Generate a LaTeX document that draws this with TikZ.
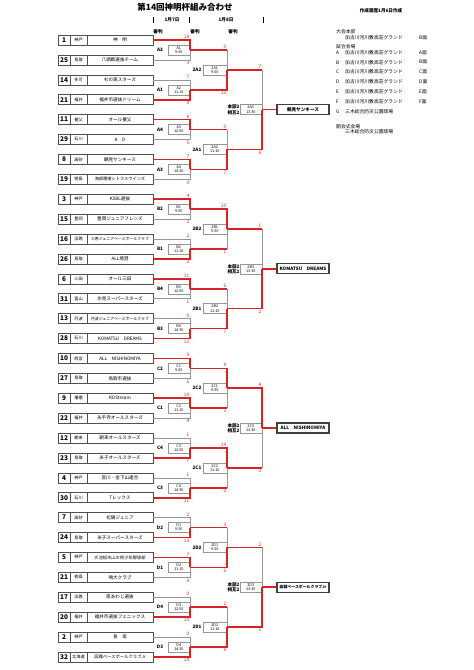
\documentclass[tikz,border=0pt]{standalone}
\usepackage{fontspec}
\setmainfont{Noto Sans CJK JP}
\definecolor{winred}{RGB}{215,35,40}
\definecolor{losegray}{RGB}{150,150,150}
\definecolor{boxgray}{RGB}{80,80,80}
\tikzset{
 cell/.style={draw=boxgray, line width=0.5pt, minimum height=10pt, inner sep=0pt, anchor=center},
 numcell/.style={cell, minimum width=12pt, font=\fontsize{6.5}{7}\selectfont\bfseries},
 areacell/.style={cell, minimum width=17pt, font=\fontsize{4.2}{5}\selectfont},
 namecell/.style={cell, minimum width=66pt, font=\fontsize{4.6}{5}\selectfont},
 matchbox/.style={draw=losegray, line width=0.5pt, fill=white, minimum height=10pt, inner sep=0pt, align=center, font=\fontsize{3.8}{4.1}\selectfont},
 reflabel/.style={font=\fontsize{4.6}{5}\selectfont\bfseries, inner sep=0pt, align=center},
 score/.style={font=\fontsize{4.7}{5}\selectfont, text=winred, inner sep=0.3pt},
 winline/.style={draw=winred, line width=1.6pt},
 loseline/.style={draw=losegray, line width=0.6pt},
 finalbox/.style={draw=black!75, line width=1.2pt, minimum width=52pt, minimum height=10pt, inner sep=0pt, font=\fontsize{4.6}{5}\selectfont\bfseries},
 legend/.style={anchor=west, inner sep=0pt, font=\fontsize{4.8}{5}\selectfont},
 hdr/.style={inner sep=0pt, font=\fontsize{4.6}{5}\selectfont\bfseries},
}
\newcommand\teamrow[4]{%
 \pgfmathsetmacro\ty{40+#1*19.9}%
 \node[numcell] (tn#1) at (64,\ty) {#2};
 \node[areacell] (ta#1) at (78.5,\ty) {#3};
 \node[namecell] (t#1) at (120,\ty) {#4};
}
\newcommand\roundone[7]{%
 \pgfmathtruncatemacro\ia{2*#1}%
 \pgfmathtruncatemacro\ib{2*#1+1}%
 \pgfmathsetmacro\ya{40+\ia*19.9}%
 \pgfmathsetmacro\yb{40+\ib*19.9}%
 \pgfmathsetmacro\ym{(\ya+\yb)/2}%
 \coordinate (a1-#1) at (190,\ya);
 \coordinate (b1-#1) at (190,\yb);
 \coordinate (m1-#1) at (190,\ym);
 \node[matchbox, minimum width=22pt, anchor=east] (g1-#1) at (m1-#1) {#2\\#3};
 \ifnum#7=0
   \draw[loseline] (t\ib.east) -- (b1-#1) -- (m1-#1);
   \draw[winline] (t\ia.east) -- (a1-#1) -- (m1-#1);
 \else
   \draw[loseline] (t\ia.east) -- (a1-#1) -- (m1-#1);
   \draw[winline] (t\ib.east) -- (b1-#1) -- (m1-#1);
 \fi
 \node[reflabel] (r1-#1) at (160,\ym) {#4};
 \node[score, anchor=south east, xshift=-0.3pt, yshift=0.9pt] (s1a-#1) at (a1-#1) {#5};
 \node[score, anchor=north east, xshift=-0.3pt, yshift=-0.9pt] (s1b-#1) at (b1-#1) {#6};
}
\newcommand\roundtwo[7]{%
 \pgfmathtruncatemacro\ka{2*#1}%
 \pgfmathtruncatemacro\kb{2*#1+1}%
 \pgfmathsetmacro\ya{40+(4*#1+0.5)*19.9}%
 \pgfmathsetmacro\yb{40+(4*#1+2.5)*19.9}%
 \pgfmathsetmacro\ym{(\ya+\yb)/2}%
 \coordinate (a2-#1) at (227,\ya);
 \coordinate (b2-#1) at (227,\yb);
 \coordinate (m2-#1) at (227,\ym);
 \node[matchbox, minimum width=24pt, anchor=east] (g2-#1) at (m2-#1) {#2\\#3};
 \ifnum#7=0
   \draw[loseline] (b2-#1) -- (m2-#1);
   \draw[winline] (m1-\kb) -- (b2-#1);
   \draw[winline] (m1-\ka) -- (a2-#1) -- (m2-#1);
 \else
   \draw[loseline] (a2-#1) -- (m2-#1);
   \draw[winline] (m1-\ka) -- (a2-#1);
   \draw[winline] (m1-\kb) -- (b2-#1) -- (m2-#1);
 \fi
 \node[reflabel] (r2-#1) at (197,\ym) {#4};
 \node[score, anchor=south east, xshift=-0.3pt, yshift=0.9pt] (s2a-#1) at (a2-#1) {#5};
 \node[score, anchor=north east, xshift=-0.3pt, yshift=-0.9pt] (s2b-#1) at (b2-#1) {#6};
}
\newcommand\roundthree[7]{%
 \pgfmathtruncatemacro\ka{2*#1}%
 \pgfmathtruncatemacro\kb{2*#1+1}%
 \pgfmathsetmacro\ya{40+(8*#1+1.5)*19.9}%
 \pgfmathsetmacro\yb{40+(8*#1+5.5)*19.9}%
 \pgfmathsetmacro\ym{(\ya+\yb)/2}%
 \coordinate (a3-#1) at (262,\ya);
 \coordinate (b3-#1) at (262,\yb);
 \coordinate (m3-#1) at (262,\ym);
 \node[matchbox, minimum width=22pt, anchor=east] (g3-#1) at (m3-#1) {#2\\#3};
 \node[finalbox] (f#1) at (303,\ym) {#7};
 \ifnum#6=0
   \draw[loseline] (b3-#1) -- (m3-#1);
   \draw[winline] (m2-\kb) -- (b3-#1);
   \draw[winline] (m2-\ka) -- (a3-#1) -- (m3-#1);
 \else
   \draw[loseline] (a3-#1) -- (m3-#1);
   \draw[winline] (m2-\ka) -- (a3-#1);
   \draw[winline] (m2-\kb) -- (b3-#1) -- (m3-#1);
 \fi
 \draw[winline] (m3-#1) -- (f#1.west);
 \node[reflabel, font=\fontsize{4.6}{5.2}\selectfont\bfseries] (r3-#1) at (233.5,\ym) {本部2\\相互2};
 \node[score, anchor=south east, xshift=-0.3pt, yshift=0.9pt] (s3a-#1) at (a3-#1) {#4};
 \node[score, anchor=north east, xshift=-0.3pt, yshift=-0.9pt] (s3b-#1) at (b3-#1) {#5};
}
\begin{document}
\begin{tikzpicture}[x=1pt,y=-1pt]
\useasboundingbox (0,0) rectangle (474,670);
\fill[white] (0,0) rectangle (474,670);
% header
\node[inner sep=0pt, font=\fontsize{8.5}{9}\selectfont\bfseries] (title) at (185,7.5) {第14回神明杯組み合わせ};
\node[hdr, font=\fontsize{4.6}{5}\selectfont\bfseries] (made) at (381,10.5) {作成履歴1月6日作成};
\coordinate (bar1t) at (153,17); \coordinate (bar1b) at (153,23);
\coordinate (bar2t) at (189,17); \coordinate (bar2b) at (189,23);
\coordinate (bar3t) at (263,17); \coordinate (bar3b) at (263,23);
\draw[line width=1pt] (bar1t) -- (bar1b);
\draw[line width=1pt] (bar2t) -- (bar2b);
\draw[line width=1pt] (bar3t) -- (bar3b);
\node[hdr] (d7) at (172,20) {1月7日};
\node[hdr] (d8) at (226,20) {1月8日};
\node[hdr] (ref1) at (158,32) {審判};
\node[hdr] (ref2) at (195,32) {審判};
\node[hdr] (ref3) at (233,32) {審判};
% legend
\node[legend] (lg1) at (336,32) {大会本部};
\node[legend] (lg2) at (345,37.5) {加古川河川敷高荘グランド};
\node[legend] (lg2b) at (419,37.5) {B面};
\node[legend] (lg3) at (336,47) {試合会場};
\node[legend] (lgA) at (336,52.5) {A}; \node[legend] (lgA2) at (345,52.5) {加古川河川敷高荘グランド}; \node[legend] (lgA3) at (419,52.5) {A面};
\node[legend] (lgB) at (336,62.3) {B}; \node[legend] (lgB2) at (345,62.3) {加古川河川敷高荘グランド}; \node[legend] (lgB3) at (419,62.3) {B面};
\node[legend] (lgC) at (336,72.1) {C}; \node[legend] (lgC2) at (345,72.1) {加古川河川敷高荘グランド}; \node[legend] (lgC3) at (419,72.1) {C面};
\node[legend] (lgD) at (336,81.9) {D}; \node[legend] (lgD2) at (345,81.9) {加古川河川敷高荘グランド}; \node[legend] (lgD3) at (419,81.9) {D面};
\node[legend] (lgE) at (336,91.7) {E}; \node[legend] (lgE2) at (345,91.7) {加古川河川敷高荘グランド}; \node[legend] (lgE3) at (419,91.7) {E面};
\node[legend] (lgF) at (336,101.5) {F}; \node[legend] (lgF2) at (345,101.5) {加古川河川敷高荘グランド}; \node[legend] (lgF3) at (419,101.5) {F面};
\node[legend] (lgG) at (336,111.3) {G}; \node[legend] (lgG2) at (345,111.3) {三木総合防災公園球場};
\node[legend] (lgH) at (336,126.5) {開会式会場};
\node[legend] (lgH2) at (345,132) {三木総合防災公園球場};
% teams
\teamrow{0}{1}{神戸}{神　明}
\teamrow{1}{25}{鳥取}{八頭郡選抜チーム}
\teamrow{2}{14}{多可}{杉の実スターズ}
\teamrow{3}{21}{福井}{福井市選抜ドリーム}
\teamrow{4}{11}{養父}{オール養父}
\teamrow{5}{29}{石川}{K　D}
\teamrow{6}{8}{高砂}{鶴見ヤンキース}
\teamrow{7}{19}{徳島}{{\fontsize{4.2}{5}\selectfont 海部勝浦シトラスウインズ}}
\teamrow{8}{3}{神戸}{KSBL選抜}
\teamrow{9}{15}{豊岡}{豊岡ジュニアフレンズ}
\teamrow{10}{16}{淡路}{{\fontsize{3.9}{5}\selectfont 三原ジュニアベースボールクラブ}}
\teamrow{11}{26}{鳥取}{ALL境港}
\teamrow{12}{6}{三田}{オール三田}
\teamrow{13}{31}{富山}{氷見スーパースターズ}
\teamrow{14}{13}{丹波}{{\fontsize{3.9}{5}\selectfont 丹波ジュニアベースボールクラブ}}
\teamrow{15}{28}{石川}{KOMATSU　DREAMS}
\teamrow{16}{10}{西宮}{ALL　NISHINOMIYA}
\teamrow{17}{27}{鳥取}{鳥取市選抜}
\teamrow{18}{9}{播磨}{KDStream}
\teamrow{19}{22}{福井}{永平寺オールスターズ}
\teamrow{20}{12}{朝来}{朝来オールスターズ}
\teamrow{21}{23}{鳥取}{米子オールスターズ}
\teamrow{22}{4}{神戸}{宮川・金下山連合}
\teamrow{23}{30}{石川}{Tレックス}
\teamrow{24}{7}{高砂}{松陽ジュニア}
\teamrow{25}{24}{鳥取}{米子スーパースターズ}
\teamrow{26}{5}{神戸}{{\fontsize{4.3}{5}\selectfont 大池桜木山の街少年野球部}}
\teamrow{27}{21}{徳島}{鳴大クラブ}
\teamrow{28}{17}{淡路}{南あわじ選抜}
\teamrow{29}{20}{福井}{福井市選抜フェニックス}
\teamrow{30}{2}{神戸}{長　坂}
\teamrow{31}{32}{北海道}{{\fontsize{4.3}{5}\selectfont 函館ベースボールクラブJr}}
% round 1
\roundone{0}{A1}{9:30}{A2}{18}{3}{0}
\roundone{1}{A2}{11:10}{A1}{7}{8}{1}
\roundone{2}{A3}{12:50}{A4}{8}{5}{0}
\roundone{3}{A4}{14:30}{A3}{7}{0}{0}
\roundone{4}{B1}{9:30}{B2}{4}{2}{0}
\roundone{5}{B2}{11:10}{B1}{2}{3}{1}
\roundone{6}{B3}{12:50}{B4}{11}{1}{0}
\roundone{7}{B4}{14:30}{B3}{0}{13}{1}
\roundone{8}{C1}{9:30}{C2}{9}{5}{0}
\roundone{9}{C2}{11:10}{C1}{10}{4}{0}
\roundone{10}{C3}{12:50}{C4}{1}{7}{1}
\roundone{11}{C4}{14:30}{C3}{1}{11}{1}
\roundone{12}{D1}{9:30}{D2}{2}{13}{1}
\roundone{13}{D2}{11:10}{D1}{7}{0}{0}
\roundone{14}{D3}{12:50}{D4}{0}{19}{1}
\roundone{15}{D4}{14:30}{D3}{0}{18}{1}
% round 2
\roundtwo{0}{2A1}{9:30}{2A2}{0}{15}{1}
\roundtwo{1}{2A2}{11:10}{2A1}{0}{7}{1}
\roundtwo{2}{2B1}{9:30}{2B2}{10}{1}{0}
\roundtwo{3}{2B2}{11:10}{2B1}{6}{7}{1}
\roundtwo{4}{2C1}{9:30}{2C2}{8}{3}{0}
\roundtwo{5}{2C2}{11:10}{2C1}{14}{0}{0}
\roundtwo{6}{2D1}{9:30}{2D2}{3}{6}{1}
\roundtwo{7}{2D2}{11:10}{2D1}{2}{8}{1}
% round 3
\roundthree{0}{2A3}{13:30}{7}{8}{1}{鶴見ヤンキース}
\roundthree{1}{2B3}{13:30}{1}{2}{1}{KOMATSU　DREAMS}
\roundthree{2}{2C3}{13:30}{4}{3}{0}{ALL　NISHINOMIYA}
\roundthree{3}{2D3}{13:30}{2}{5}{1}{{\fontsize{3.9}{5}\selectfont 函館ベースボールクラブJr}}
\end{tikzpicture}
\end{document}
